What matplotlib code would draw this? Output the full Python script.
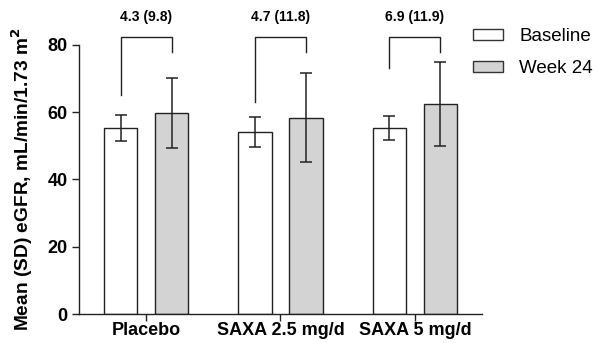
import matplotlib
matplotlib.use("Agg")
import matplotlib.pyplot as plt
import numpy as np
from matplotlib.patches import Patch

plt.rcParams["font.family"] = ["Liberation Sans", "DejaVu Sans"]

groups = ["Placebo", "SAXA 2.5 mg/d", "SAXA 5 mg/d"]
baseline_mean = [55.3, 54.1, 55.3]
baseline_sd = [3.9, 4.5, 3.6]
week24_mean = [59.7, 58.3, 62.4]
week24_sd = [10.5, 13.2, 12.4]
change_labels = ["4.3 (9.8)", "4.7 (11.8)", "6.9 (11.9)"]
# where each bracket leg stops (data units)
bracket_left_end = [65.0, 63.1, 73.2]
bracket_right_end = [77.9, 77.9, 77.9]

x = np.arange(len(groups))
w = 0.25
off = 0.19

fig = plt.figure(figsize=(5.93, 3.43), dpi=100)
ax = fig.add_axes([0.133, 0.0845, 0.68, 0.785])

err_kw = dict(ecolor="#222222", elinewidth=1.1, capsize=4, capthick=1.1)
ax.bar(x - off, baseline_mean, w, yerr=baseline_sd, color="white",
       edgecolor="#222222", linewidth=1.0, error_kw=err_kw, label="Baseline")
ax.bar(x + off, week24_mean, w, yerr=week24_sd, color="#d3d3d3",
       edgecolor="#222222", linewidth=1.0, error_kw=err_kw, label="Week 24")

top = 82.4
for i in range(len(groups)):
    xl, xr = x[i] - off, x[i] + off
    ax.plot([xl, xl, xr, xr], [bracket_left_end[i], top, top, bracket_right_end[i]],
            color="#222222", lw=1.0, clip_on=False)
    ax.text(x[i], 86.3, change_labels[i], ha="center", va="bottom",
            fontsize=10, fontweight="bold", clip_on=False)

ax.set_xlim(-0.5, 2.5)
ax.set_ylim(0, 80)
ax.set_yticks([0, 20, 40, 60, 80])
ax.set_xticks(x)
ax.set_xticklabels(groups)
for lab in ax.get_xticklabels() + ax.get_yticklabels():
    lab.set_fontweight("bold")
    lab.set_fontsize(13)
ax.tick_params(axis="both", direction="out", length=5, width=1.0, color="#222222")
ax.tick_params(axis="x", pad=1)
ax.tick_params(axis="y", pad=3)
ax.set_ylabel("Mean (SD) eGFR, mL/min/1.73 m$^\\mathbf{2}$", fontsize=13.8,
              fontweight="bold", labelpad=9)
ax.spines["top"].set_visible(False)
ax.spines["right"].set_visible(False)
for s in ("left", "bottom"):
    ax.spines[s].set_linewidth(1.0)
    ax.spines[s].set_color("#222222")

handles = [Patch(facecolor="white", edgecolor="#333333", label="Baseline"),
           Patch(facecolor="#d3d3d3", edgecolor="#333333", label="Week 24")]
fig.legend(handles=handles, loc="upper left", bbox_to_anchor=(0.798, 0.918),
           frameon=False, fontsize=13.5, handlelength=1.6, handleheight=0.5,
           handletextpad=0.85, labelspacing=0.8, borderpad=0, borderaxespad=0)

fig.savefig("out.png", dpi=100)
